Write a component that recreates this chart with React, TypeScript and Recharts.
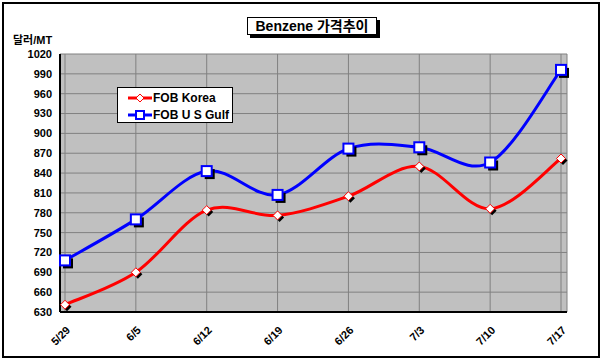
import React from "react";
import { LineChart, Line, XAxis, YAxis, CartesianGrid } from "recharts";

const dates = ["5/29", "6/5", "6/12", "6/19", "6/26", "7/3", "7/10", "7/17"];
const fobKorea = [641, 690, 784, 776, 805, 850, 786, 862];
const fobUsGulf = [708, 770, 843, 807, 877, 879, 856, 996];
const yTicks = [630, 660, 690, 720, 750, 780, 810, 840, 870, 900, 930, 960, 990, 1020];

const data = dates.map((d, i) => ({ date: d, korea: fobKorea[i], gulf: fobUsGulf[i] }));

const FONT = "'Liberation Sans', Arial, 'Noto Sans CJK KR', sans-serif";

// excel-like smoothing (catmull-rom)
const smooth = (context: any) => {
  let pts: number[][] = [];
  return {
    areaStart() {},
    areaEnd() {},
    lineStart() {
      pts = [];
    },
    point(x: number, y: number) {
      pts.push([+x, +y]);
    },
    lineEnd() {
      if (!pts.length) return;
      context.moveTo(pts[0][0], pts[0][1]);
      const t = 1 / 6;
      for (let i = 0; i < pts.length - 1; i++) {
        const p0 = pts[i - 1] || pts[i];
        const p1 = pts[i];
        const p2 = pts[i + 1];
        const p3 = pts[i + 2] || p2;
        context.bezierCurveTo(
          p1[0] + (p2[0] - p0[0]) * t,
          p1[1] + (p2[1] - p0[1]) * t,
          p2[0] - (p3[0] - p1[0]) * t,
          p2[1] - (p3[1] - p1[1]) * t,
          p2[0],
          p2[1]
        );
      }
    },
  };
};

const Diamond = (props: any) => {
  const { cx, cy, index } = props;
  const r = 4.5;
  const pts = (dx: number, dy: number) =>
    `${cx + dx},${cy - r + dy} ${cx + r + dx},${cy + dy} ${cx + dx},${cy + r + dy} ${cx - r + dx},${cy + dy}`;
  return (
    <g key={`d${index}`}>
      <polygon points={pts(2, 2)} fill="#000" />
      <polygon points={pts(0, 0)} fill="#fff" stroke="#ff0000" strokeWidth={1} />
    </g>
  );
};

const Square = (props: any) => {
  const { cx, cy, index } = props;
  const s = 5;
  return (
    <g key={`s${index}`}>
      <rect x={cx - s + 3} y={cy - s + 3} width={s * 2} height={s * 2} fill="#000" />
      <rect x={cx - s} y={cy - s} width={s * 2} height={s * 2} fill="#fff" stroke="#0000ff" strokeWidth={2} />
    </g>
  );
};

const XTick = (props: any) => {
  const { x, y, payload } = props;
  return (
    <text
      x={x + 3}
      y={y + 8}
      transform={`rotate(-45 ${x + 3} ${y + 8})`}
      textAnchor="end"
      fontSize={11}
      fontWeight="bold"
      fontFamily={FONT}
      fill="#000"
      dy={4}
    >
      {payload.value}
    </text>
  );
};

const LegendBox = () => (
  <div
    style={{
      position: "absolute",
      left: 117,
      top: 87,
      width: 114,
      height: 34,
      border: "1px solid #000",
      background: "#fff",
    }}
  >
    <svg width={114} height={34} style={{ display: "block" }}>
      <line x1={10} y1={10} x2={34} y2={10} stroke="#ff0000" strokeWidth={3} />
      <polygon points="22,6 26,10 22,14 18,10" fill="#fff" stroke="#ff0000" />
      <text x={35} y={14} fontFamily={FONT} fontSize={12} fontWeight="bold">FOB Korea</text>
      <line x1={10} y1={27} x2={34} y2={27} stroke="#0000ff" strokeWidth={3} />
      <rect x={18} y={23} width={8} height={8} fill="#fff" stroke="#0000ff" strokeWidth={2} />
      <text x={35} y={31} fontFamily={FONT} fontSize={12} fontWeight="bold">FOB U S Gulf</text>
    </svg>
  </div>
);

export default function App() {
  return (
    <div style={{ position: "absolute", left: 0, top: 0, width: 602, height: 363, background: "#fff" }}>
      <div style={{ position: "absolute", left: 0, top: 0 }}>
        <LineChart width={602} height={363} data={data} margin={{ top: 54, right: 35, bottom: 0, left: 12 }}>
          <CartesianGrid stroke="#808080" strokeWidth={1} fill="#c0c0c0" fillOpacity={1} />
          <XAxis
            dataKey="date"
            height={51}
            padding={{ left: 5, right: 6 }}
            tick={<XTick />}
            tickLine={false}
            axisLine={{ stroke: "#000", strokeWidth: 2 }}
            interval={0}
          />
          <YAxis
            domain={[630, 1020]}
            ticks={yTicks}
            width={48}
            tick={{ fontSize: 11, fontWeight: "bold", fill: "#000", fontFamily: FONT }}
            tickLine={false}
            axisLine={{ stroke: "#000", strokeWidth: 2 }}
            interval={0}
          />
          <Line
            dataKey="korea"
            name="FOB Korea"
            stroke="#ff0000"
            strokeWidth={3}
            type={smooth as any}
            dot={<Diamond />}
            isAnimationActive={false}
          />
          <Line
            dataKey="gulf"
            name="FOB U S Gulf"
            stroke="#0000ff"
            strokeWidth={3}
            type={smooth as any}
            dot={<Square />}
            isAnimationActive={false}
          />
        </LineChart>
      </div>
      <div
        style={{
          position: "absolute",
          left: 2,
          top: 2,
          width: 594,
          height: 352,
          border: "2px solid #000",
          pointerEvents: "none",
        }}
      />
      <div
        style={{
          position: "absolute",
          left: 247,
          top: 17,
          width: 126,
          height: 14,
          border: "1px solid #000",
          boxShadow: "3px 3px 0 #000",
          background: "#fff",
          fontFamily: FONT,
          fontSize: 14,
          fontWeight: "bold",
          lineHeight: "14px",
          textAlign: "center",
          padding: "1px 1px",
        }}
      >
        Benzene 가격추이
      </div>
      <div
        style={{
          position: "absolute",
          left: 13,
          top: 31,
          fontFamily: FONT,
          fontSize: 11,
          fontWeight: "bold",
        }}
      >
        달러/MT
      </div>
      <LegendBox />
    </div>
  );
}
